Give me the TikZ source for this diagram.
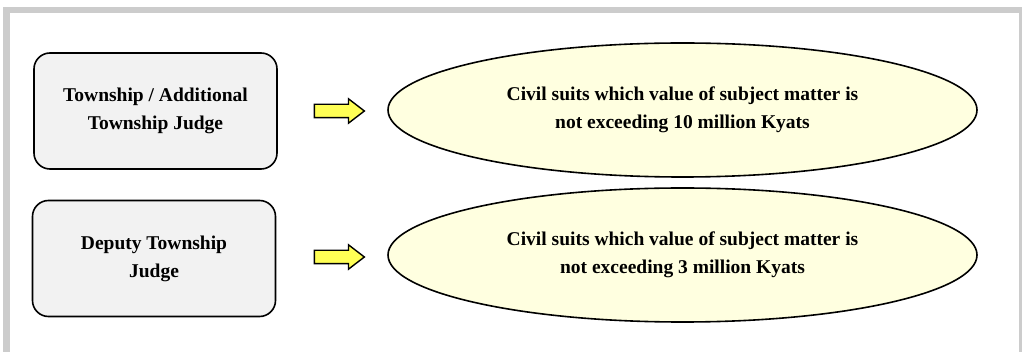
\documentclass[tikz,border=0pt]{standalone}
\usepackage{fontspec}
\setmainfont{Liberation Serif}
\usetikzlibrary{shapes.geometric,shapes.arrows}
\definecolor{framegray}{HTML}{CCCCCC}
\definecolor{boxfill}{HTML}{F2F2F2}
\definecolor{ellfill}{HTML}{FFFFE0}
\definecolor{arrfill}{HTML}{FFFF55}
\tikzset{
  judgebox/.style={draw=black, line width=1.6pt, fill=boxfill, rounded corners=16pt,
    minimum width=243pt, minimum height=116pt, align=center,
    font=\fontsize{19.5}{28}\selectfont\bfseries},
  suitell/.style={draw=black, line width=1.6pt, fill=ellfill, ellipse,
    minimum width=589pt, minimum height=134pt, inner sep=0pt, align=center,
    font=\fontsize{19.5}{28}\selectfont\bfseries},
  blockarrow/.style={draw=black, line width=1.4pt, fill=arrfill, single arrow,
    minimum height=50pt, minimum width=23pt, inner sep=6pt,
    single arrow head extend=5.5pt, single arrow tip angle=75}
}
\begin{document}
\begin{tikzpicture}[x=1pt,y=-1pt]
\useasboundingbox (0,0) rectangle (1022,352);
\fill[framegray] (3,7) rectangle (1022,352);
\fill[white] (10,13) rectangle (1019,352);
\node[judgebox] (j1) at (155.5,111) {Township / Additional\\Township Judge};
\node[judgebox] (j2) at (154,258.5) {Deputy Township\\Judge};
\node[blockarrow] (a1) at (335,111) {};
\node[blockarrow] (a2) at (335,257) {};
\node[suitell] (s1) at (682.5,110) {Civil suits which value of subject matter is\\not exceeding 10 million Kyats};
\node[suitell] (s2) at (682.5,255) {Civil suits which value of subject matter is\\not exceeding 3 million Kyats};
\end{tikzpicture}
\end{document}
